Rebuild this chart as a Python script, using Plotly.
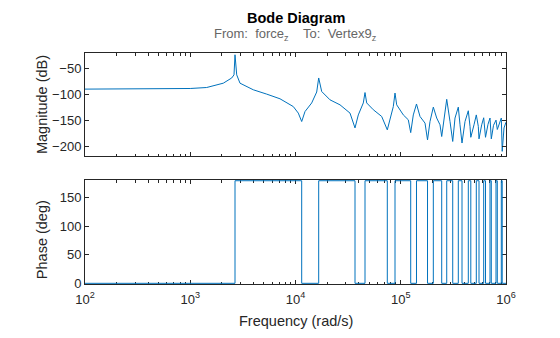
import plotly.graph_objects as go

# ---- data ----
mag_freq = [100, 600, 1000, 1432, 2061, 2477, 2604, 2662, 2763, 2969, 3972, 5325, 7123,
            9530, 10631, 11453, 12310, 14250, 15900, 16610, 17740, 21270, 26480, 32950,
            36760, 39510, 44080, 45750, 47480, 54850, 65920, 74520, 79060, 84960, 88190,
            91530, 105730, 117960, 124340, 131630, 141110, 152380, 170040, 179600, 189660,
            203900, 219600, 236000, 245000, 257600, 273400, 293800, 311700, 327700, 352300,
            365600, 381900, 407800, 438300, 455000, 463000, 496600, 522200, 545600, 554100,
            587600, 614000, 638600, 674500, 704700, 725000, 760900, 803500, 826700, 857900,
            902500, 920500, 957100, 1000000]
mag_db = [-90.4, -90.0, -89.2, -87.3, -79, -69, -63, -24.4, -63, -79, -91.7, -100, -109,
          -124, -136.5, -152.7, -133.5, -117, -96, -69, -95, -111, -120.6, -136.5,
          -165, -140, -117, -97, -117, -130, -143, -168.7, -146, -124, -98,
          -120.6, -140, -149.4, -174, -140, -119, -143, -155.8, -188, -152.7,
          -125, -146, -159, -181.5, -146, -110, -152.7, -191, -146, -125,
          -159, -194, -152.7, -132, -162, -183, -159, -140, -162, -186,
          -159, -145.5, -183, -158, -146, -186, -160, -150, -168, -158,
          -146, -210, -165, -154]

phase_freq = [100, 2662, 11453, 16610, 36760, 45750, 74520, 88190, 124340, 141110, 179600,
              203900, 245000, 273400, 311700, 352300, 381900, 438300, 463000, 522200,
              554100, 614000, 638600, 704700, 725000, 803500, 826700, 902500, 920500, 1000000]
phase_deg = [0, 180, 0, 180, 0, 180, 0, 180, 0, 180, 0, 180, 0, 180, 0, 180, 0, 180, 0, 180,
             0, 180, 0, 180, 0, 180, 0, 180, 0, 0]

x_ticks = [1e2, 1e3, 1e4, 1e5, 1e6]
x_ticktext = ["10<sup>2</sup>", "10<sup>3</sup>", "10<sup>4</sup>", "10<sup>5</sup>", "10<sup>6</sup>"]
x_minor = [m * 10 ** e for e in range(2, 6) for m in range(2, 10)]
mag_ticks = [-200, -150, -100, -50]
phase_ticks = [0, 50, 100, 150]

title_text = "<b>Bode Diagram</b>"
sub_text = "From:\u00a0\u00a0force<sub>z</sub>\u00a0\u00a0\u00a0\u00a0To:\u00a0\u00a0Vertex9<sub>z</sub>"

LINE = "#0072BD"
AX = "#262626"
FONT = "Liberation Sans, Arial, sans-serif"

fig = go.Figure()
fig.add_trace(go.Scatter(x=mag_freq, y=mag_db, mode="lines",
                         line=dict(color=LINE, width=1), xaxis="x", yaxis="y",
                         showlegend=False, hoverinfo="skip"))
fig.add_trace(go.Scatter(x=phase_freq, y=phase_deg, mode="lines",
                         line=dict(color=LINE, width=1, shape="hv"), xaxis="x2", yaxis="y2",
                         showlegend=False, hoverinfo="skip"))

common_x = dict(type="log", range=[2, 6], showline=True, linecolor=AX, linewidth=1,
                mirror="ticks", ticks="inside", ticklen=4, tickcolor=AX, tickwidth=1,
                tickvals=x_ticks, ticktext=x_ticktext, showgrid=False, zeroline=False,
                minor=dict(tickvals=x_minor, ticks="inside", ticklen=2.5, tickcolor=AX,
                           tickwidth=1, showgrid=False),
                tickfont=dict(family=FONT, size=13, color=AX))
common_y = dict(showline=True, linecolor=AX, linewidth=1, mirror="ticks", ticks="inside",
                ticklen=4, tickcolor=AX, tickwidth=1, showgrid=False, zeroline=False,
                tickfont=dict(family=FONT, size=13, color=AX))

fig.update_layout(
    width=560, height=338,
    margin=dict(l=85, r=54, t=53, b=54),
    paper_bgcolor="white", plot_bgcolor="white",
    xaxis=dict(common_x, anchor="y", domain=[0, 1], showticklabels=False),
    yaxis=dict(common_y, anchor="x", domain=[0.554, 1], range=[-219, -21], tickvals=mag_ticks),
    xaxis2=dict(common_x, anchor="y2", domain=[0, 1], showticklabels=True,
                layer="below traces", ticklabelstandoff=3),
    yaxis2=dict(common_y, anchor="x2", domain=[0, 0.45], range=[-1.2, 181.2],
                tickvals=phase_ticks, layer="below traces"),
    font=dict(family=FONT, color=AX),
    annotations=[
        dict(text=title_text, x=0.5, y=1.1515, xref="paper", yref="paper", showarrow=False,
             xanchor="center", yanchor="middle", font=dict(size=14.5, color="#000000")),
        dict(text=sub_text, x=0.5, y=1.080, xref="paper", yref="paper", showarrow=False,
             xanchor="center", yanchor="middle", font=dict(size=13, color="#666666")),
        dict(text="Magnitude (dB)", x=-0.102, y=0.775, xref="paper", yref="paper",
             showarrow=False, textangle=-90, xanchor="center", yanchor="middle",
             font=dict(size=14.5, color=AX)),
        dict(text="Phase (deg)", x=-0.102, y=0.19, xref="paper", yref="paper",
             showarrow=False, textangle=-90, xanchor="center", yanchor="middle",
             font=dict(size=14.5, color=AX)),
        dict(text="Frequency (rad/s)", x=0.502, y=-0.159, xref="paper", yref="paper",
             showarrow=False, xanchor="center", yanchor="middle",
             font=dict(size=14.5, color=AX)),
    ],
)

fig.write_html("out.html")
